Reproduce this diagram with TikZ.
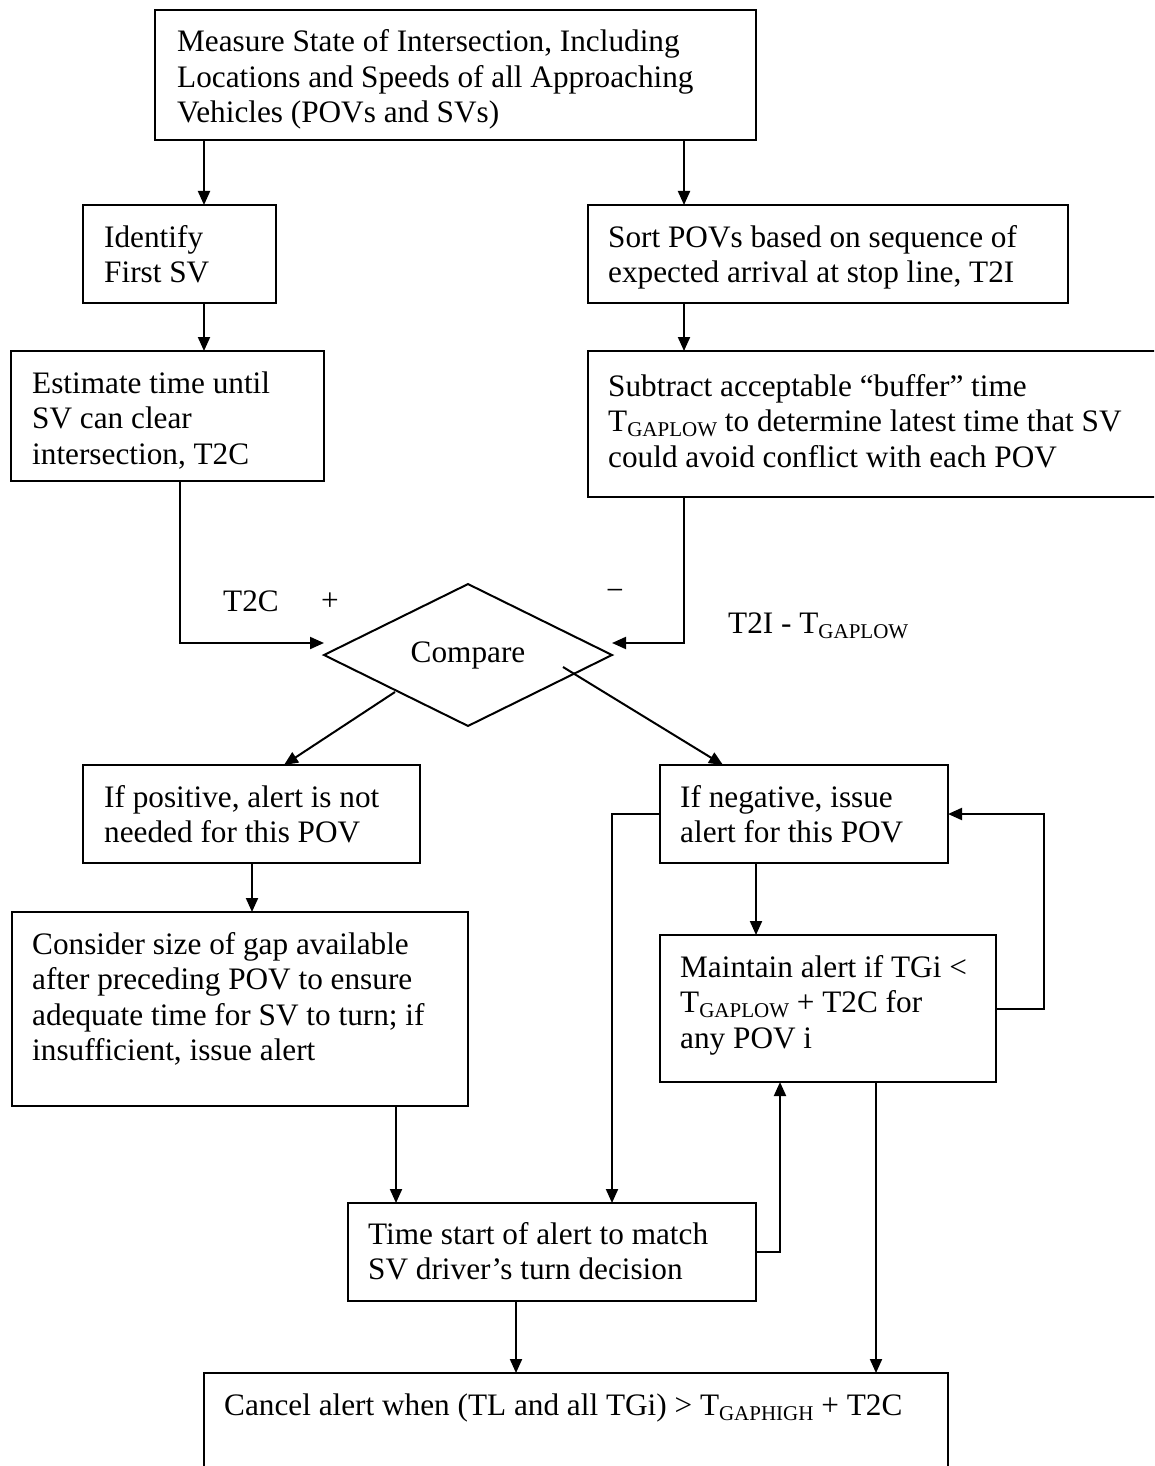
\documentclass[tikz,border=0pt]{standalone}
\usepackage{fontspec}
\setmainfont{Liberation Serif}
\usetikzlibrary{arrows.meta,shapes.geometric,calc}
\newcommand{\mysub}[1]{\raisebox{-0.16em}{\fontsize{21}{21}\selectfont #1}}
\newcommand{\mylines}[1]{\begin{tabular}[t]{@{}l@{}}#1\end{tabular}}
\begin{document}
\begin{tikzpicture}[x=1pt,y=-1pt,
  box/.style={draw, line width=2.2pt, rectangle, anchor=north west, inner sep=0pt, outer sep=0pt},
  txt/.style={anchor=base west, inner sep=0pt, font=\fontsize{31.25}{35.5}\selectfont},
  lbl/.style={inner sep=0pt, font=\fontsize{31.25}{35.5}\selectfont},
  conn/.style={line width=2pt, -{Triangle[length=14pt,width=12pt]}},
  plain/.style={line width=2pt}
]
\useasboundingbox (0,0) rectangle (1154,1466);
\clip (0,0) rectangle (1154,1466);
\fill[white] (0,0) rectangle (1154,1466);

% boxes
\node[box, minimum width=601pt, minimum height=130pt] (top) at (155,10) {};
\node[box, minimum width=193pt, minimum height=98pt] (ident) at (83,205) {};
\node[box, minimum width=480pt, minimum height=98pt] (sort) at (588,205) {};
\node[box, minimum width=313pt, minimum height=130pt] (est) at (11,351) {};
\node[box, minimum width=600pt, minimum height=146pt] (sub) at (588,351) {};
\node[draw, diamond, line width=2pt, minimum width=288pt, minimum height=122pt, inner sep=0pt, outer sep=0pt, lbl] (cmp) at (468,655) {Compare};
\node[box, minimum width=337pt, minimum height=98pt] (ifpos) at (83,765) {};
\node[box, minimum width=288pt, minimum height=98pt] (ifneg) at (660,765) {};
\node[box, minimum width=456pt, minimum height=194pt] (cons) at (12,912) {};
\node[box, minimum width=336pt, minimum height=147pt] (maint) at (660,935) {};
\node[box, minimum width=408pt, minimum height=98pt] (timebox) at (348,1203) {};
\node[box, minimum width=744pt, minimum height=150pt] (cancel) at (204,1373) {};

% texts
\node[txt] (tTop) at (177,52) {\mylines{Measure State of Intersection, Including\\Locations and Speeds of all Approaching\\Vehicles (POVs and SVs)}};
\node[txt] (tId) at (104,247) {\mylines{Identify\\First SV}};
\node[txt] (tSort) at (608,247) {\mylines{Sort POVs based on sequence of\\expected arrival at stop line, T2I}};
\node[txt] (tEst) at (32,393) {\mylines{Estimate time until\\SV can clear\\intersection, T2C}};
\node[txt] (tSub) at (608,396) {\mylines{Subtract acceptable “buffer” time\\T\mysub{GAPLOW} to determine latest time that SV\\could avoid conflict with each POV}};
\node[txt] (tPos) at (104,807) {\mylines{If positive, alert is not\\needed for this POV}};
\node[txt] (tNeg) at (680,807) {\mylines{If negative, issue\\alert for this POV}};
\node[txt] (tCons) at (32,954) {\mylines{Consider size of gap available\\after preceding POV to ensure\\adequate time for SV to turn; if\\insufficient, issue alert}};
\node[txt] (tMaint) at (680,977) {\mylines{Maintain alert if TGi <\\T\mysub{GAPLOW} + T2C for\\any POV i}};
\node[txt] (tTime) at (368,1244) {\mylines{Time start of alert to match\\SV driver’s turn decision}};
\node[txt] (tCancel) at (224,1415) {Cancel alert when (TL and all TGi) > T\mysub{GAPHIGH} + T2C};

% labels
\node[txt] (lT2C) at (223,611) {T2C};
\node[lbl, anchor=base] (lPlus) at (330,610) {+};
\node[lbl, anchor=base] (lMinus) at (615,600) {−};
\node[txt] (lT2I) at (728,633) {T2I - T\mysub{GAPLOW}};

% x positions
\coordinate (xA) at (204,0);
\coordinate (xB) at (684,0);
\coordinate (xE) at (180,0);
\coordinate (xP) at (284,0);
\coordinate (xN) at (723,0);
\coordinate (xC) at (252,0);
\coordinate (xM) at (756,0);
\coordinate (xT) at (612,0);
\coordinate (xK) at (396,0);
\coordinate (xR) at (780,0);
\coordinate (xL) at (516,0);
\coordinate (xF) at (876,0);

% connectors
\draw[conn] (top.south -| xA) -- (ident.north -| xA);
\draw[conn] (top.south -| xB) -- (sort.north -| xB);
\draw[conn] (ident.south -| xA) -- (est.north -| xA);
\draw[conn] (sort.south -| xB) -- (sub.north -| xB);
\draw[conn] (est.south -| xE) |- ($(cmp.west)+(0,-12)$);
\draw[conn] (sub.south -| xB) |- ($(cmp.east)+(0,-12)$);
\draw[conn] ($(cmp.center)+(-73,37)$) -- (ifpos.north -| xP);
\draw[conn] ($(cmp.center)+(95,12)$) -- (ifneg.north -| xN);
\draw[conn] (ifpos.south -| xC) -- (cons.north -| xC);
\draw[conn] (ifneg.south -| xM) -- (maint.north -| xM);
\draw[conn] (ifneg.west) -| (timebox.north -| xT);
\draw[conn] (maint.east) -- ++(48,0) |- (ifneg.east);
\draw[conn] (cons.south -| xK) -- (timebox.north -| xK);
\draw[conn] (timebox.east) -| (maint.south -| xR);
\draw[conn] (timebox.south -| xL) -- (cancel.north -| xL);
\draw[conn] (maint.south -| xF) -- (cancel.north -| xF);
\end{tikzpicture}
\end{document}
